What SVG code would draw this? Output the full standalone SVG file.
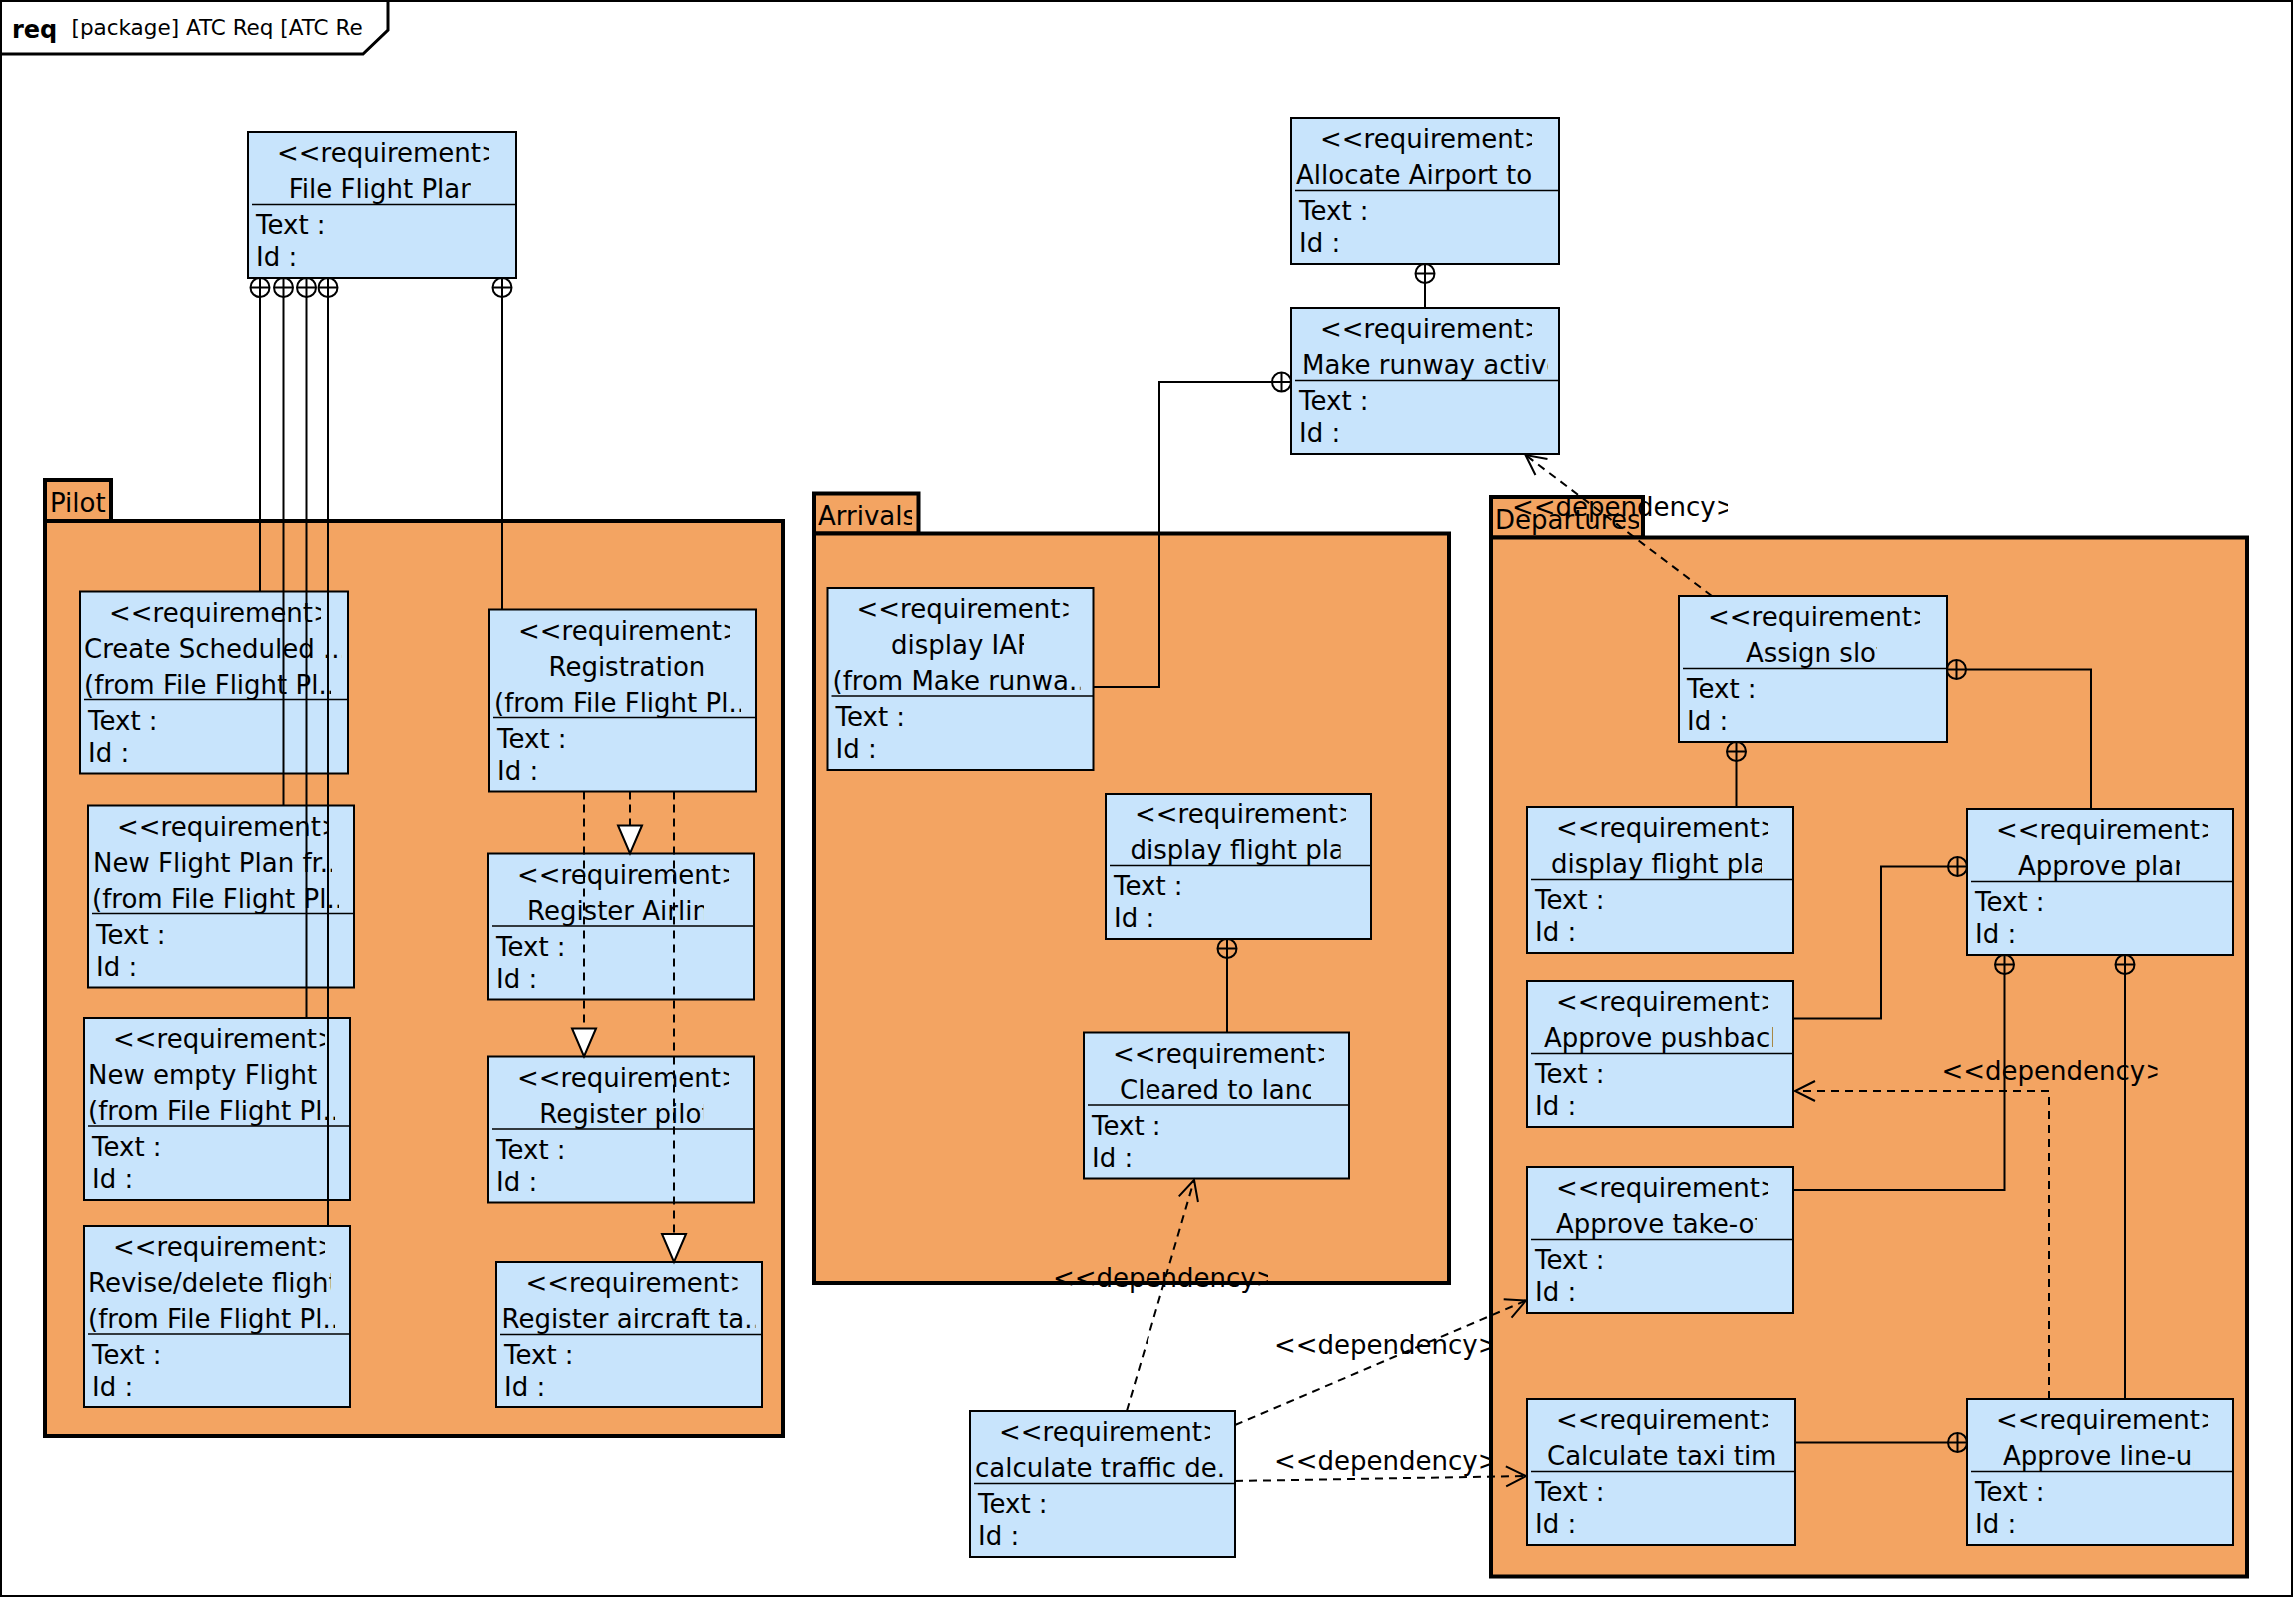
<svg xmlns="http://www.w3.org/2000/svg" xmlns:xlink="http://www.w3.org/1999/xlink" width="2297" height="1601" viewBox="0 0 2297 1601">
<style>
.n rect{fill:#C8E4FC;stroke:#000;stroke-width:2}
.n line{stroke:#000;stroke-width:1.5}
.t{font-family:"DejaVu Sans","Liberation Sans",sans-serif;font-size:26px;fill:#000}
.pk{fill:#F3A462;stroke:#000;stroke-width:4}
.c{fill:none;stroke:#000;stroke-width:2}
.d{fill:none;stroke:#000;stroke-width:2;stroke-dasharray:8 6}
.dep{marker-end:url(#open)}
.real{marker-end:url(#tri)}
</style>
<defs>
<marker id="open" viewBox="-24 -13 26 26" refX="0" refY="0" markerWidth="26" markerHeight="26" markerUnits="userSpaceOnUse" orient="auto" overflow="visible"><path d="M -20 -10 L 0 0 L -20 10" fill="none" stroke="#000" stroke-width="2"/></marker>
<marker id="tri" viewBox="-30 -14 32 28" refX="0" refY="0" markerWidth="32" markerHeight="28" markerUnits="userSpaceOnUse" orient="auto" overflow="visible"><path d="M -28 -12 L 0 0 L -28 12 Z" fill="#fff" stroke="#000" stroke-width="2"/></marker>
<g id="oplus"><circle r="9.5" fill="none" stroke="#000" stroke-width="2"/><path d="M -9.5 0 H 9.5 M 0 -9.5 V 9.5" stroke="#000" stroke-width="2"/></g>
</defs>
<rect width="2297" height="1601" fill="#fff"/>
<g id="frame">
<rect x="1" y="1" width="2292" height="1596" fill="none" stroke="#000" stroke-width="2"/>
<path d="M 1 54 L 363 54 L 388 30 L 388 1" fill="none" stroke="#000" stroke-width="3"/>
<text x="12" y="38" style="font-family:'DejaVu Sans',sans-serif;font-size:24px;font-weight:bold">req</text>
<text x="71.5" y="35" style="font-family:'DejaVu Sans',sans-serif;font-size:21.5px">[package] ATC Req [ATC Re</text>
</g>

<g id="pkg-pilot">
<rect class="pk" x="45" y="480" width="66" height="41"/>
<rect class="pk" x="45" y="521" width="738" height="916"/>
<text class="t" x="50" y="511.5">Pilot</text>
</g>
<g id="pkg-arrivals">
<rect class="pk" x="814" y="493.5" width="104.5" height="40"/>
<rect class="pk" x="814" y="533.5" width="636" height="750.5"/>
<svg x="814" y="493.5" width="98" height="40" overflow="hidden"><text class="t" x="4" y="31.5">Arrivals</text></svg>
</g>
<g id="pkg-departures">
<rect class="pk" x="1492" y="497" width="152" height="40.5"/>
<rect class="pk" x="1492" y="537.5" width="756" height="1040"/>
<svg x="1492" y="497" width="148" height="40" overflow="hidden"><text class="t" x="4" y="32">Departures</text></svg>
</g>

<g id="n-file-flight-plan" class="n">
<rect x="248" y="132" width="268" height="146"/><line x1="252" y1="204.5" x2="516" y2="204.5"/>
<svg x="277" y="136" width="212" height="36"><text class="t" y="26">&lt;&lt;requirement&gt;&gt;</text></svg>
<svg x="288.8" y="172" width="182" height="36"><text class="t" y="26">File Flight Plan</text></svg>
<text class="t" x="256" y="234">Text :</text><text class="t" x="256" y="266">Id :</text>
</g>

<g id="n-create-scheduled" class="n">
<rect x="80" y="591.5" width="268" height="182"/><line x1="84" y1="699.5" x2="348" y2="699.5"/>
<svg x="109" y="595.5" width="212" height="36"><text class="t" y="26">&lt;&lt;requirement&gt;&gt;</text></svg>
<svg x="84" y="631.5" width="258" height="36"><text class="t" y="26">Create Scheduled ...</text></svg>
<svg x="84" y="667.5" width="247" height="36"><text class="t" y="26">(from File Flight Pl...</text></svg>
<text class="t" x="88" y="729.5">Text :</text><text class="t" x="88" y="761.5">Id :</text>
</g>

<g id="n-new-flight-plan" class="n">
<rect x="88" y="806.5" width="266" height="182"/><line x1="92" y1="914.5" x2="354" y2="914.5"/>
<svg x="117" y="810.5" width="212" height="36"><text class="t" y="26">&lt;&lt;requirement&gt;&gt;</text></svg>
<svg x="93" y="846.5" width="239" height="36"><text class="t" y="26">New Flight Plan fr...</text></svg>
<svg x="92" y="882.5" width="247" height="36"><text class="t" y="26">(from File Flight Pl...</text></svg>
<text class="t" x="96" y="944.5">Text :</text><text class="t" x="96" y="976.5">Id :</text>
</g>

<g id="n-new-empty-flight" class="n">
<rect x="84" y="1019" width="266" height="182"/><line x1="88" y1="1127" x2="350" y2="1127"/>
<svg x="113" y="1023" width="212" height="36"><text class="t" y="26">&lt;&lt;requirement&gt;&gt;</text></svg>
<svg x="88" y="1059" width="252" height="36"><text class="t" y="26">New empty Flight</text></svg>
<svg x="88" y="1095" width="247" height="36"><text class="t" y="26">(from File Flight Pl...</text></svg>
<text class="t" x="92" y="1157">Text :</text><text class="t" x="92" y="1189">Id :</text>
</g>

<g id="n-revise-delete" class="n">
<rect x="84" y="1227" width="266" height="181"/><line x1="88" y1="1335" x2="350" y2="1335"/>
<svg x="113" y="1231" width="212" height="36"><text class="t" y="26">&lt;&lt;requirement&gt;&gt;</text></svg>
<svg x="88" y="1267" width="243" height="36"><text class="t" y="26">Revise/delete flight</text></svg>
<svg x="88" y="1303" width="247" height="36"><text class="t" y="26">(from File Flight Pl...</text></svg>
<text class="t" x="92" y="1365">Text :</text><text class="t" x="92" y="1397">Id :</text>
</g>

<g id="n-registration" class="n">
<rect x="489" y="609.5" width="267" height="182"/><line x1="493" y1="717.5" x2="756" y2="717.5"/>
<svg x="518" y="613.5" width="212" height="36"><text class="t" y="26">&lt;&lt;requirement&gt;&gt;</text></svg>
<svg x="548.5" y="649.5" width="162" height="36"><text class="t" y="26">Registration</text></svg>
<svg x="494" y="685.5" width="247" height="36"><text class="t" y="26">(from File Flight Pl...</text></svg>
<text class="t" x="497" y="747.5">Text :</text><text class="t" x="497" y="779.5">Id :</text>
</g>

<g id="n-register-airline" class="n">
<rect x="488" y="854.5" width="266" height="146"/><line x1="492" y1="927" x2="754" y2="927"/>
<svg x="517" y="858.5" width="212" height="36"><text class="t" y="26">&lt;&lt;requirement&gt;&gt;</text></svg>
<svg x="527" y="894.5" width="177" height="36"><text class="t" y="26">Register Airline</text></svg>
<text class="t" x="496" y="956.5">Text :</text><text class="t" x="496" y="988.5">Id :</text>
</g>

<g id="n-register-pilot" class="n">
<rect x="488" y="1057.5" width="266" height="146"/><line x1="492" y1="1130" x2="754" y2="1130"/>
<svg x="517" y="1061.5" width="212" height="36"><text class="t" y="26">&lt;&lt;requirement&gt;&gt;</text></svg>
<svg x="539.3" y="1097.5" width="164" height="36"><text class="t" y="26">Register pilot</text></svg>
<text class="t" x="496" y="1159.5">Text :</text><text class="t" x="496" y="1191.5">Id :</text>
</g>

<g id="n-register-aircraft" class="n">
<rect x="496" y="1263" width="266" height="145"/><line x1="500" y1="1335.5" x2="762" y2="1335.5"/>
<svg x="525.5" y="1267" width="212" height="36"><text class="t" y="26">&lt;&lt;requirement&gt;&gt;</text></svg>
<svg x="501.5" y="1303" width="254" height="36"><text class="t" y="26">Register aircraft ta...</text></svg>
<text class="t" x="504" y="1365">Text :</text><text class="t" x="504" y="1397">Id :</text>
</g>

<g id="n-allocate-airport" class="n">
<rect x="1292" y="118" width="268" height="146"/><line x1="1296" y1="190.5" x2="1560" y2="190.5"/>
<svg x="1321" y="122" width="212" height="36"><text class="t" y="26">&lt;&lt;requirement&gt;&gt;</text></svg>
<svg x="1297" y="158" width="258" height="36"><text class="t" y="26">Allocate Airport to</text></svg>
<text class="t" x="1300" y="220">Text :</text><text class="t" x="1300" y="252">Id :</text>
</g>

<g id="n-make-runway-active" class="n">
<rect x="1292" y="308" width="268" height="146"/><line x1="1296" y1="380.5" x2="1560" y2="380.5"/>
<svg x="1321" y="312" width="212" height="36"><text class="t" y="26">&lt;&lt;requirement&gt;&gt;</text></svg>
<svg x="1303" y="348" width="246" height="36"><text class="t" y="26">Make runway active</text></svg>
<text class="t" x="1300" y="410">Text :</text><text class="t" x="1300" y="442">Id :</text>
</g>

<g id="n-display-iaf" class="n">
<rect x="827.5" y="588" width="266" height="182"/><line x1="831.5" y1="696" x2="1093.5" y2="696"/>
<svg x="856.5" y="592" width="212" height="36"><text class="t" y="26">&lt;&lt;requirement&gt;&gt;</text></svg>
<svg x="891" y="628" width="133" height="36"><text class="t" y="26">display IAF</text></svg>
<svg x="832.5" y="664" width="248" height="36"><text class="t" y="26">(from Make runwa...</text></svg>
<text class="t" x="835.5" y="726">Text :</text><text class="t" x="835.5" y="758">Id :</text>
</g>

<g id="n-display-flight-plan-arr" class="n">
<rect x="1106" y="794" width="266" height="146"/><line x1="1110" y1="866.5" x2="1372" y2="866.5"/>
<svg x="1135" y="798" width="212" height="36"><text class="t" y="26">&lt;&lt;requirement&gt;&gt;</text></svg>
<svg x="1130.5" y="834" width="211" height="36"><text class="t" y="26">display flight plan</text></svg>
<text class="t" x="1114" y="896">Text :</text><text class="t" x="1114" y="928">Id :</text>
</g>

<g id="n-cleared-to-land" class="n">
<rect x="1084" y="1033.5" width="266" height="146"/><line x1="1088" y1="1106" x2="1350" y2="1106"/>
<svg x="1113" y="1037.5" width="212" height="36"><text class="t" y="26">&lt;&lt;requirement&gt;&gt;</text></svg>
<svg x="1120" y="1073.5" width="192" height="36"><text class="t" y="26">Cleared to land</text></svg>
<text class="t" x="1092" y="1135.5">Text :</text><text class="t" x="1092" y="1167.5">Id :</text>
</g>

<g id="n-calculate-traffic" class="n">
<rect x="970" y="1412" width="266" height="146"/><line x1="974" y1="1484.5" x2="1236" y2="1484.5"/>
<svg x="999" y="1416" width="212" height="36"><text class="t" y="26">&lt;&lt;requirement&gt;&gt;</text></svg>
<svg x="975" y="1452" width="253" height="36"><text class="t" y="26">calculate traffic de...</text></svg>
<text class="t" x="978" y="1514">Text :</text><text class="t" x="978" y="1546">Id :</text>
</g>

<g id="n-assign-slot" class="n">
<rect x="1680" y="596" width="268" height="146"/><line x1="1684" y1="668.5" x2="1948" y2="668.5"/>
<svg x="1709" y="600" width="212" height="36"><text class="t" y="26">&lt;&lt;requirement&gt;&gt;</text></svg>
<svg x="1747" y="636" width="131" height="36"><text class="t" y="26">Assign slot</text></svg>
<text class="t" x="1688" y="698">Text :</text><text class="t" x="1688" y="730">Id :</text>
</g>

<g id="n-display-flight-plan-dep" class="n">
<rect x="1528" y="808" width="266" height="146"/><line x1="1532" y1="880.5" x2="1794" y2="880.5"/>
<svg x="1557" y="812" width="212" height="36"><text class="t" y="26">&lt;&lt;requirement&gt;&gt;</text></svg>
<svg x="1552" y="848" width="211" height="36"><text class="t" y="26">display flight plan</text></svg>
<text class="t" x="1536" y="910">Text :</text><text class="t" x="1536" y="942">Id :</text>
</g>

<g id="n-approve-plan" class="n">
<rect x="1968" y="810" width="266" height="146"/><line x1="1972" y1="882.5" x2="2234" y2="882.5"/>
<svg x="1997" y="814" width="212" height="36"><text class="t" y="26">&lt;&lt;requirement&gt;&gt;</text></svg>
<svg x="2019" y="850" width="162" height="36"><text class="t" y="26">Approve plan</text></svg>
<text class="t" x="1976" y="912">Text :</text><text class="t" x="1976" y="944">Id :</text>
</g>

<g id="n-approve-pushback" class="n">
<rect x="1528" y="982" width="266" height="146"/><line x1="1532" y1="1054.5" x2="1794" y2="1054.5"/>
<svg x="1557" y="986" width="212" height="36"><text class="t" y="26">&lt;&lt;requirement&gt;&gt;</text></svg>
<svg x="1545" y="1022" width="229" height="36"><text class="t" y="26">Approve pushback</text></svg>
<text class="t" x="1536" y="1084">Text :</text><text class="t" x="1536" y="1116">Id :</text>
</g>

<g id="n-approve-take-off" class="n">
<rect x="1528" y="1168" width="266" height="146"/><line x1="1532" y1="1240.5" x2="1794" y2="1240.5"/>
<svg x="1557" y="1172" width="212" height="36"><text class="t" y="26">&lt;&lt;requirement&gt;&gt;</text></svg>
<svg x="1557" y="1208" width="201" height="36"><text class="t" y="26">Approve take-off</text></svg>
<text class="t" x="1536" y="1270">Text :</text><text class="t" x="1536" y="1302">Id :</text>
</g>

<g id="n-calculate-taxi-time" class="n">
<rect x="1528" y="1400" width="268" height="146"/><line x1="1532" y1="1472.5" x2="1796" y2="1472.5"/>
<svg x="1557" y="1404" width="212" height="36"><text class="t" y="26">&lt;&lt;requirement&gt;&gt;</text></svg>
<svg x="1548" y="1440" width="230" height="36"><text class="t" y="26">Calculate taxi time</text></svg>
<text class="t" x="1536" y="1502">Text :</text><text class="t" x="1536" y="1534">Id :</text>
</g>

<g id="n-approve-line-up" class="n">
<rect x="1968" y="1400" width="266" height="146"/><line x1="1972" y1="1472.5" x2="2234" y2="1472.5"/>
<svg x="1997" y="1404" width="212" height="36"><text class="t" y="26">&lt;&lt;requirement&gt;&gt;</text></svg>
<svg x="2004" y="1440" width="191" height="36"><text class="t" y="26">Approve line-up</text></svg>
<text class="t" x="1976" y="1502">Text :</text><text class="t" x="1976" y="1534">Id :</text>
</g>

<g id="connectors">
<path class="c" d="M 260 297 V 591.5"/>
<path class="c" d="M 283.5 297 V 806.5"/>
<path class="c" d="M 306.5 297 V 1019"/>
<path class="c" d="M 328 297 V 1227"/>
<path class="c" d="M 502 297 V 609.5"/>
<use href="#oplus" x="260" y="287.5"/>
<use href="#oplus" x="283.5" y="287.5"/>
<use href="#oplus" x="306.5" y="287.5"/>
<use href="#oplus" x="328" y="287.5"/>
<use href="#oplus" x="502" y="287.5"/>

<path class="d real" d="M 630 791.5 V 854.5"/>
<path class="d real" d="M 584 791.5 V 1057.5"/>
<path class="d real" d="M 674 791.5 V 1263"/>

<path class="c" d="M 1426 283 V 308"/>
<use href="#oplus" x="1426" y="273.5"/>
<path class="c" d="M 1273 382 H 1160 V 687 H 1093.5"/>
<use href="#oplus" x="1282.5" y="382"/>
<path class="c" d="M 1228 959 V 1033.5"/>
<use href="#oplus" x="1228" y="949.5"/>

<path class="c" d="M 1737.5 761 V 808"/>
<use href="#oplus" x="1737.5" y="751.5"/>
<path class="c" d="M 1967 669.5 H 2092 V 810"/>
<use href="#oplus" x="1957.5" y="669.5"/>
<path class="c" d="M 1949 867.5 H 1882 V 1019.5 H 1794"/>
<use href="#oplus" x="1958.5" y="867.5"/>
<path class="c" d="M 2005.5 975 V 1191 H 1794"/>
<use href="#oplus" x="2005.5" y="965.5"/>
<path class="c" d="M 2126 975 V 1400"/>
<use href="#oplus" x="2126" y="965.5"/>
<path class="c" d="M 1949 1443.5 H 1796"/>
<use href="#oplus" x="1958.5" y="1443.5"/>

<path class="d dep" d="M 1713 596 L 1526.5 455"/>
<svg x="1513" y="486" width="216" height="40"><text class="t" y="30">&lt;&lt;dependency&gt;&gt;</text></svg>
<path class="d dep" d="M 2050 1400 V 1092 H 1796"/>
<svg x="1942.5" y="1051" width="216" height="40"><text class="t" y="30">&lt;&lt;dependency&gt;&gt;</text></svg>
<path class="d dep" d="M 1127 1412 L 1195 1181"/>
<svg x="1053" y="1258" width="216" height="40"><text class="t" y="30">&lt;&lt;dependency&gt;&gt;</text></svg>
<path class="d dep" d="M 1236 1426 L 1527 1301.5"/>
<svg x="1275" y="1325" width="216" height="40"><text class="t" y="30">&lt;&lt;dependency&gt;&gt;</text></svg>
<path class="d dep" d="M 1236 1482 L 1527 1477"/>
<svg x="1275" y="1441" width="216" height="40"><text class="t" y="30">&lt;&lt;dependency&gt;&gt;</text></svg>
</g>
</svg>
